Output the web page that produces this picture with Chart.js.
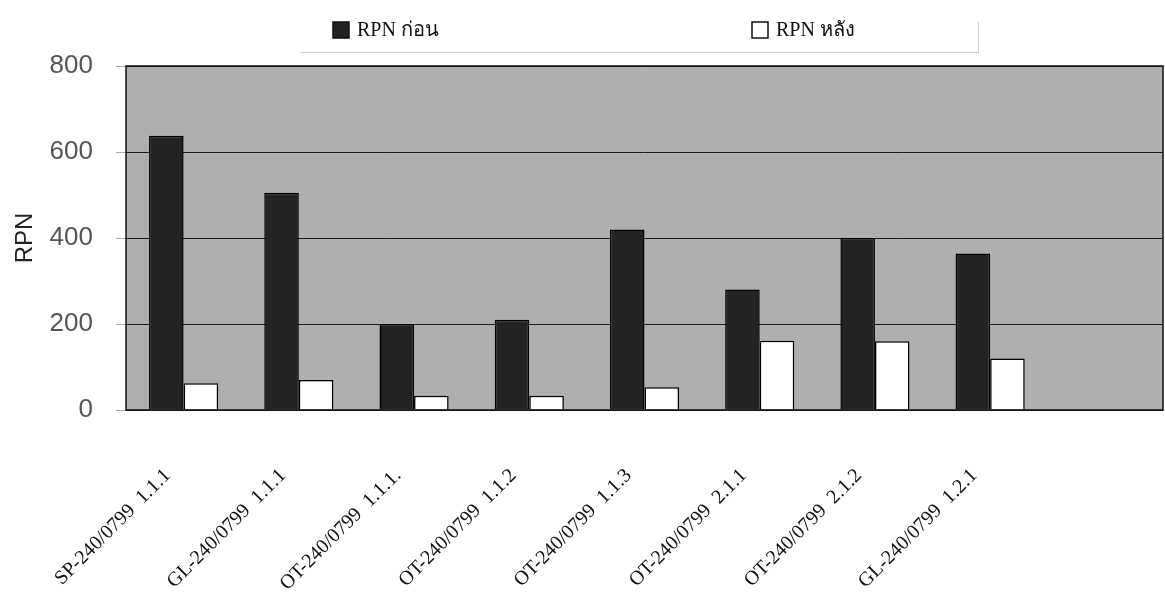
<!DOCTYPE html>
<html>
<head>
<meta charset="utf-8">
<script src="https://cdn.jsdelivr.net/npm/chart.js@4.4.1/dist/chart.umd.min.js"></script>
<style>
  html, body { margin: 0; padding: 0; background: #fff; }
  #wrap { width: 1165px; height: 593px; }
</style>
</head>
<body>
<div id="wrap"><canvas id="rpnChart"></canvas></div>
<script>
// categories (last slot is empty in the original chart)
const categories = [
    'SP-240/0799  1.1.1',
    'GL-240/0799  1.1.1',
    'OT-240/0799  1.1.1.',
    'OT-240/0799  1.1.2',
    'OT-240/0799  1.1.3',
    'OT-240/0799  2.1.1',
    'OT-240/0799  2.1.2',
    'GL-240/0799  1.2.1',
    ''
];
const rpnBefore = [638, 505, 200, 210, 420, 280, 400, 364];
const rpnAfter = [62, 70, 33, 33, 53, 161, 160, 120];
const yTicks = [0, 200, 400, 600, 800];

// plot background + frame, and the legend at the top
const plotFrame = {
    id: 'plotFrame',
    beforeDraw(chart) {
        const { ctx, chartArea: a } = chart;
        ctx.save();
        ctx.fillStyle = '#afafaf';
        ctx.fillRect(a.left, a.top, a.right - a.left, a.bottom - a.top);
        ctx.restore();
    },
    afterDraw(chart) {
        const { ctx, chartArea: a } = chart;
        ctx.save();
        ctx.strokeStyle = '#111';
        ctx.lineWidth = 1.5;
        ctx.strokeRect(a.left, a.top, a.right - a.left, a.bottom - a.top);

        // faint legend box edge
        ctx.strokeStyle = '#cfcfcf';
        ctx.lineWidth = 1;
        ctx.beginPath();
        ctx.moveTo(300, 52.5);
        ctx.lineTo(978.5, 52.5);
        ctx.lineTo(978.5, 22);
        ctx.stroke();

        // legend
        const spots = [333, 752];
        chart.data.datasets.forEach((ds, i) => {
            const x = spots[i];
            ctx.fillStyle = ds.backgroundColor;
            ctx.strokeStyle = '#111';
            ctx.lineWidth = 1.5;
            ctx.fillRect(x, 22, 16, 16);
            ctx.strokeRect(x, 22, 16, 16);
            ctx.fillStyle = '#111';
            ctx.font = '20px "Liberation Serif", "Times New Roman", serif';
            ctx.textBaseline = 'middle';
            ctx.textAlign = 'left';
            ctx.fillText(ds.label, x + 24, 31);
        });
        ctx.restore();
    }
};

const ctx = document.getElementById('rpnChart').getContext('2d');
new Chart(ctx, {
    type: 'bar',
    data: {
        labels: categories,
        datasets: [{
            label: 'RPN ก่อน',
            data: rpnBefore,
            backgroundColor: '#232323',
            borderColor: '#000',
            borderWidth: 1.5
        }, {
            label: 'RPN หลัง',
            data: rpnAfter,
            backgroundColor: '#ffffff',
            borderColor: '#000',
            borderWidth: 1.5
        }]
    },
    options: {
        responsive: true,
        maintainAspectRatio: false,
        animation: false,
        layout: { padding: { top: 66, right: 2, left: 0, bottom: 0 } },
        plugins: {
            legend: { display: false },
            tooltip: { enabled: false }
        },
        datasets: {
            bar: { categoryPercentage: 0.6, barPercentage: 1.0 }
        },
        scales: {
            x: {
                grid: { display: false },
                border: { display: false },
                ticks: {
                    autoSkip: false,
                    minRotation: 45,
                    maxRotation: 45,
                    padding: 46,
                    labelOffset: -16,
                    color: '#111',
                    font: { family: '"Liberation Serif", "Times New Roman", serif', size: 20 }
                },
                afterFit(scale) {
                    scale.height = 183;
                    scale.paddingRight = 0;
                }
            },
            y: {
                min: 0,
                max: 800,
                afterBuildTicks(scale) { scale.ticks = yTicks.map(v => ({ value: v })); },
                grid: { color: '#1a1a1a', lineWidth: 1, tickLength: 10, tickColor: '#aaa' },
                border: { display: false },
                ticks: {
                    padding: 23,
                    color: '#555',
                    font: { family: '"Liberation Sans", Arial, sans-serif', size: 26 }
                },
                title: {
                    display: true,
                    text: 'RPN',
                    color: '#222',
                    padding: { top: 11, bottom: 0 },
                    font: { family: '"Liberation Sans", Arial, sans-serif', size: 24 }
                },
                afterFit(scale) { scale.width = 126; }
            }
        }
    },
    plugins: [plotFrame]
});
</script>
</body>
</html>
